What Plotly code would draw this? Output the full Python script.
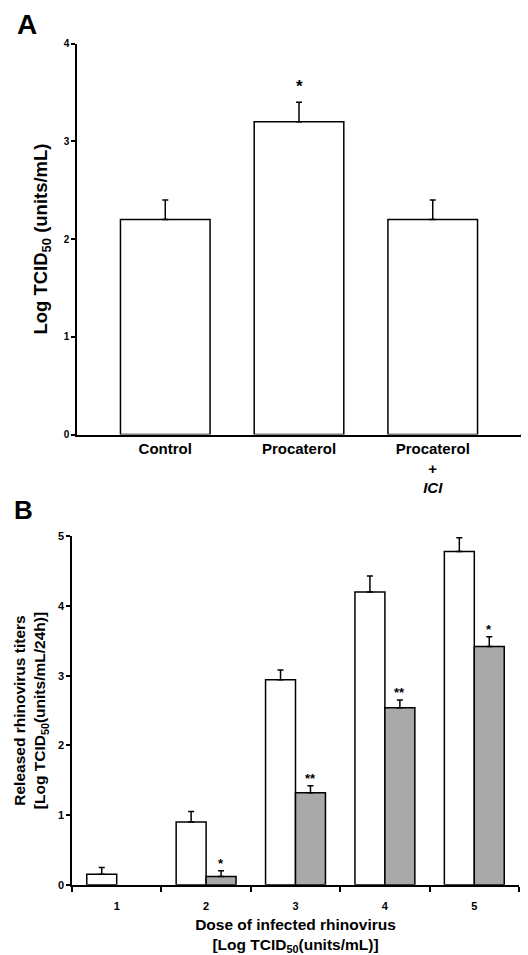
import plotly.graph_objects as go

# Panel A data
a_categories = ["Control", "Procaterol", "Procaterol<br>+<br><i>ICI</i>"]
a_values = [2.2, 3.2, 2.2]
a_errors = [0.2, 0.2, 0.2]
a_marks = ["", "*", ""]

# Panel B data
b_doses = ["1", "2", "3", "4", "5"]
b_control = [0.15, 0.9, 2.94, 4.2, 4.78]
b_control_err = [0.1, 0.15, 0.14, 0.23, 0.2]
b_treated = [None, 0.12, 1.32, 2.54, 3.42]
b_treated_err = [None, 0.08, 0.1, 0.11, 0.14]
b_marks = ["", "*", "**", "**", "*"]

FONT = "Liberation Sans, Arial, sans-serif"
W, H = 528, 955

def px(v):
    return v / W

def py(v):
    return 1 - v / H

fig = go.Figure()

fig.add_trace(go.Bar(
    x=a_categories, y=a_values, xaxis="x", yaxis="y",
    marker=dict(color="white", line=dict(color="black", width=1.5)),
    error_y=dict(type="data", symmetric=False, array=a_errors,
                 arrayminus=[0] * len(a_errors), color="black", thickness=1.5, width=3),
    width=0.67, showlegend=False,
))

fig.add_trace(go.Bar(
    x=b_doses, y=b_control, xaxis="x2", yaxis="y2",
    marker=dict(color="white", line=dict(color="black", width=1.5)),
    error_y=dict(type="data", symmetric=False, array=b_control_err,
                 arrayminus=[0] * len(b_control_err), color="black", thickness=1.5, width=3),
    showlegend=False, offsetgroup="c",
))
fig.add_trace(go.Bar(
    x=b_doses, y=b_treated, xaxis="x2", yaxis="y2",
    marker=dict(color="#a9a9a9", line=dict(color="black", width=1.5)),
    error_y=dict(type="data", symmetric=False, array=b_treated_err,
                 arrayminus=[0] * len(b_control_err), color="black", thickness=1.5, width=3),
    showlegend=False, offsetgroup="t",
))

annotations = []
for i, m in enumerate(a_marks):
    if m:
        annotations.append(dict(x=a_categories[i], y=a_values[i] + a_errors[i], xref="x", yref="y",
                                text="<b>" + m + "</b>", showarrow=False, yanchor="bottom", yshift=4,
                                font=dict(family=FONT, size=17, color="black")))
for i, m in enumerate(b_marks):
    if m:
        annotations.append(dict(x=i + 0.168, y=b_treated[i] + b_treated_err[i], xref="x2", yref="y2",
                                text="<b>" + m + "</b>", showarrow=False, yanchor="bottom", yshift=-2,
                                font=dict(family=FONT, size=13, color="black")))

annotations.append(dict(x=px(27), y=py(19), xref="paper", yref="paper", text="<b>A</b>",
                        showarrow=False, yanchor="middle", xanchor="center",
                        font=dict(family=FONT, size=28, color="black")))
annotations.append(dict(x=px(23), y=py(510), xref="paper", yref="paper", text="<b>B</b>",
                        showarrow=False, yanchor="middle", xanchor="center",
                        font=dict(family=FONT, size=26, color="black")))

axis_common = dict(showline=True, linecolor="black", linewidth=1.5, showgrid=False, zeroline=False,
                   tickcolor="black")

fig.update_layout(
    width=W, height=H, margin=dict(l=0, r=0, t=0, b=0),
    paper_bgcolor="white", plot_bgcolor="white",
    barmode="group", bargap=0.33, bargroupgap=0,
    font=dict(family=FONT, color="black"),
    xaxis=dict(axis_common, domain=[px(77), px(521)], anchor="y", type="category",
               ticks="", range=[-0.66, 2.66],
               tickfont=dict(family=FONT, size=15, color="black", weight="bold")),
    yaxis=dict(axis_common, domain=[py(434), py(38)], anchor="x", range=[0, 4],
               tickvals=[0, 1, 2, 3, 4], ticks="outside", ticklen=4, tickwidth=1.5,
               tickfont=dict(family=FONT, size=10, color="black", weight="bold"),
               title=dict(text="<b>Log TCID<sub>50</sub> (units/mL)</b>", standoff=11,
                          font=dict(family=FONT, size=18.5, color="black"))),
    xaxis2=dict(axis_common, domain=[px(72), px(519)], anchor="y2", type="category",
                tickson="boundaries", ticks="outside", ticklen=5, tickwidth=1.5,
                ticklabelstandoff=10, range=[-0.5, 4.5],
                tickfont=dict(family=FONT, size=11, color="black", weight="bold"),
                title=dict(text="<b>Dose of infected rhinovirus<br>[Log TCID<sub>50</sub>(units/mL)]</b>",
                           standoff=9, font=dict(family=FONT, size=15.5, color="black"))),
    yaxis2=dict(axis_common, domain=[py(890), py(537)], anchor="x2", range=[0, 5],
                tickvals=[0, 1, 2, 3, 4, 5], ticks="outside", ticklen=4, tickwidth=1.5,
                tickfont=dict(family=FONT, size=11, color="black", weight="bold"),
                title=dict(text="<b>Released rhinovirus titers<br>[Log TCID<sub>50</sub>(units/mL/24h)]</b>",
                           standoff=8, font=dict(family=FONT, size=15.5, color="black"))),
    annotations=annotations,
    shapes=[dict(type="line", xref="x domain", x0=1, x1=1, yref="y", ysizemode="pixel",
                 yanchor=0, y0=0, y1=-5, line=dict(color="black", width=1.5))],
)

fig.write_html("out.html", config={"displayModeBar": False},
               post_script="document.body.style.margin='0';document.body.style.overflow='hidden';")
